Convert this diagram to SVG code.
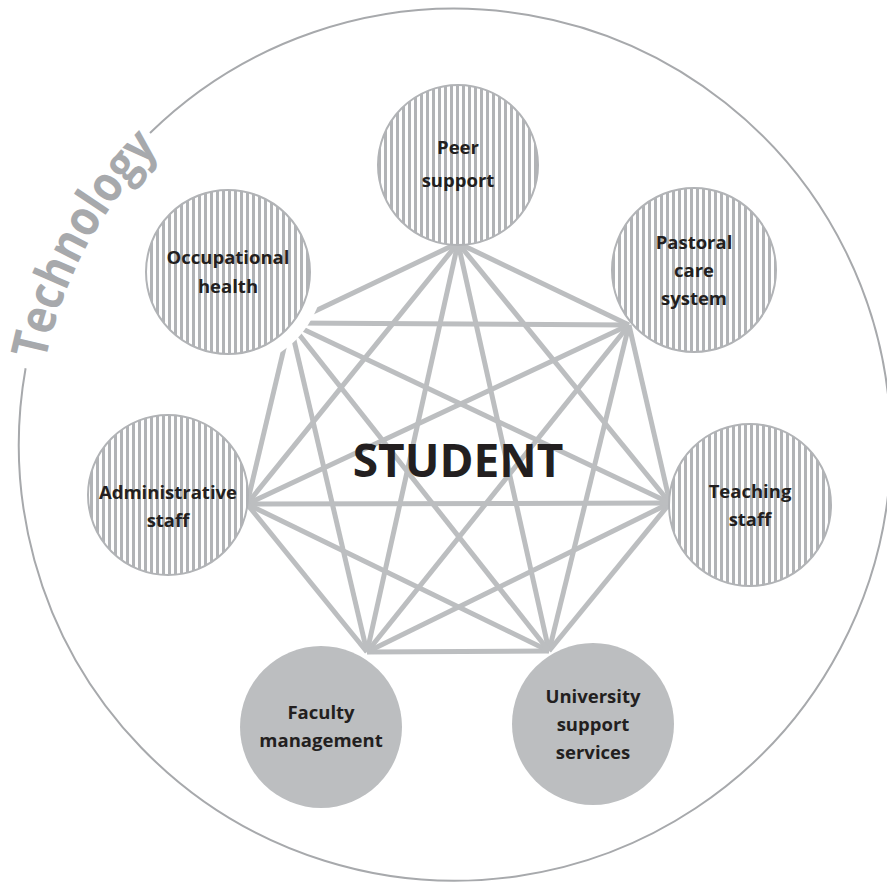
<svg xmlns="http://www.w3.org/2000/svg" xmlns:xlink="http://www.w3.org/1999/xlink" width="887" height="886" viewBox="0 0 887 886">
  <style>
    .edge { stroke: #bcbec0; stroke-width: 5; fill: none; }
    .ring { fill: url(#stripes); stroke: #b1b3b6; stroke-width: 2; }
    .solid { fill: #bcbec0; stroke: none; }
    .label { font-family: "Open Sans", "Liberation Sans", sans-serif; font-weight: 700; font-size: 18.5px; fill: #231f20; text-anchor: middle; }
    .hub { font-family: "Open Sans", "Liberation Sans", sans-serif; font-weight: 700; font-size: 46px; fill: #231f20; text-anchor: middle; }
    .tech { font-family: "Open Sans", "Liberation Sans", sans-serif; font-weight: 700; font-size: 50px; fill: #a7a9ac; }
  </style>
  <defs>
    <pattern id="stripes" patternUnits="userSpaceOnUse" x="0" y="0" width="6" height="6">
      <rect width="6" height="6" fill="#ffffff"/>
      <rect x="0" width="3" height="6" fill="#b1b3b6"/>
    </pattern>
    <path id="techArc" d="M 45.4 360.7 A 418 418 0 0 1 175.3 133.4"/>
  </defs>

  <rect width="887" height="886" fill="#ffffff"/>

  <!-- outer boundary with a gap for the label -->
  <g id="technology">
    <path d="M 150 133 A 436 436 0 1 1 25.6 368.3" fill="none" stroke="#a7a9ac" stroke-width="2"/>
    <text class="tech"><textPath xlink:href="#techArc" startOffset="0" textLength="244" lengthAdjust="spacingAndGlyphs">Technology</textPath></text>
  </g>

  <!-- every node linked to every other -->
  <g id="connectors">
    <line class="edge" x1="458" y1="243" x2="629" y2="325"/>
    <line class="edge" x1="458" y1="243" x2="670" y2="503"/>
    <line class="edge" x1="458" y1="243" x2="549" y2="651"/>
    <line class="edge" x1="458" y1="243" x2="367" y2="652"/>
    <line class="edge" x1="458" y1="243" x2="247" y2="504"/>
    <line class="edge" x1="458" y1="243" x2="290" y2="323"/>
    <line class="edge" x1="629" y1="325" x2="670" y2="503"/>
    <line class="edge" x1="629" y1="325" x2="549" y2="651"/>
    <line class="edge" x1="629" y1="325" x2="367" y2="652"/>
    <line class="edge" x1="629" y1="325" x2="247" y2="504"/>
    <line class="edge" x1="629" y1="325" x2="290" y2="323"/>
    <line class="edge" x1="670" y1="503" x2="549" y2="651"/>
    <line class="edge" x1="670" y1="503" x2="367" y2="652"/>
    <line class="edge" x1="670" y1="503" x2="247" y2="504"/>
    <line class="edge" x1="670" y1="503" x2="290" y2="323"/>
    <line class="edge" x1="549" y1="651" x2="367" y2="652"/>
    <line class="edge" x1="549" y1="651" x2="247" y2="504"/>
    <line class="edge" x1="549" y1="651" x2="290" y2="323"/>
    <line class="edge" x1="367" y1="652" x2="247" y2="504"/>
    <line class="edge" x1="367" y1="652" x2="290" y2="323"/>
    <line class="edge" x1="247" y1="504" x2="290" y2="323"/>
  </g>

  <g id="student">
    <text class="hub" x="458" y="477">STUDENT</text>
  </g>

  <g id="peer-support">
    <circle class="ring" cx="458" cy="165" r="80"/>
    <text class="label" x="458" y="154">Peer</text>
    <text class="label" x="458" y="187">support</text>
  </g>

  <g id="pastoral-care-system">
    <circle class="ring" cx="694" cy="270" r="82"/>
    <text class="label" x="694" y="249">Pastoral</text>
    <text class="label" x="694" y="277">care</text>
    <text class="label" x="694" y="305">system</text>
  </g>

  <g id="teaching-staff">
    <circle class="ring" cx="750" cy="505" r="81"/>
    <text class="label" x="750" y="498">Teaching</text>
    <text class="label" x="750" y="526">staff</text>
  </g>

  <g id="university-support-services">
    <circle class="solid" cx="593" cy="724" r="81"/>
    <text class="label" x="593" y="703">University</text>
    <text class="label" x="593" y="731">support</text>
    <text class="label" x="593" y="759">services</text>
  </g>

  <g id="faculty-management">
    <circle class="solid" cx="321" cy="727" r="81"/>
    <text class="label" x="321" y="719">Faculty</text>
    <text class="label" x="321" y="747">management</text>
  </g>

  <g id="administrative-staff">
    <circle class="ring" cx="168" cy="495" r="80"/>
    <text class="label" x="168" y="499">Administrative</text>
    <text class="label" x="168" y="527">staff</text>
  </g>

  <g id="occupational-health">
    <circle cx="228" cy="272" r="96" fill="#ffffff"/>
    <circle class="ring" cx="228" cy="272" r="82"/>
    <text class="label" x="228" y="264">Occupational</text>
    <text class="label" x="228" y="293">health</text>
  </g>
</svg>
